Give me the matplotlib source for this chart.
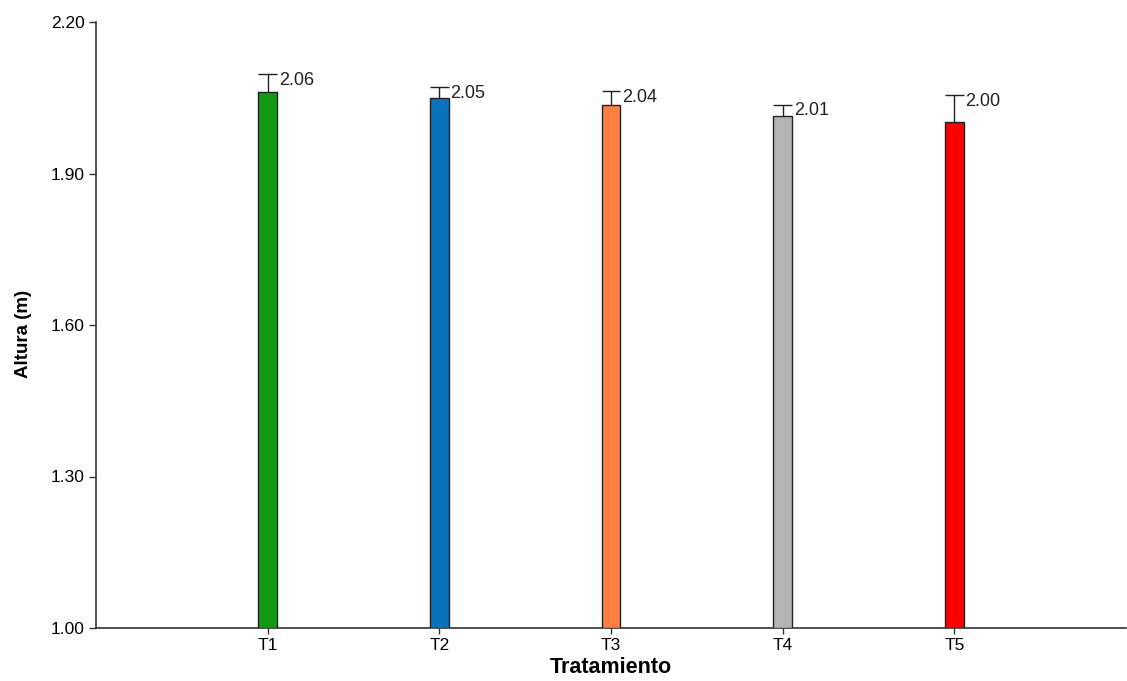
import matplotlib
matplotlib.use("Agg")
import matplotlib.pyplot as plt

# datos
tratamientos = ["T1", "T2", "T3", "T4", "T5"]
altura = [2.061, 2.049, 2.036, 2.014, 2.002]
error = [0.036, 0.022, 0.027, 0.022, 0.053]
etiquetas = ["2.06", "2.05", "2.04", "2.01", "2.00"]
colores = ["#139A13", "#0A72BD", "#FF8040", "#B4B4B4", "#FF0000"]
yticks = [1.00, 1.30, 1.60, 1.90, 2.20]

plt.rcParams["font.family"] = ["Liberation Sans", "DejaVu Sans"]

fig = plt.figure(figsize=(11.27, 6.81), dpi=100)
ax = fig.add_axes([96 / 1127, 53 / 681, 1030 / 1127, 606 / 681])

pos = list(range(1, len(tratamientos) + 1))
ax.bar(pos, [a - 1.0 for a in altura], bottom=1.0, width=0.11,
       color=colores, edgecolor="#222222", linewidth=1.0, zorder=3)

# barra de error solo hacia arriba
tope = [a + e for a, e in zip(altura, error)]
ax.vlines(pos, altura, tope, color="#222222", linewidth=1.0, zorder=2)
ax.hlines(tope, [p - 0.055 for p in pos], [p + 0.055 for p in pos],
          color="#222222", linewidth=1.0, zorder=2)

for x, t0, t in zip(pos, tope, etiquetas):
    ax.text(x + 0.065, t0 - 0.012, t, fontsize=13, color="#222222",
            ha="left", va="center")

ax.set_xlim(0, 6)
ax.set_ylim(1.0, 2.2)
ax.set_xticks(pos)
ax.set_xticklabels(tratamientos, fontsize=12.5)
ax.set_yticks(yticks)
ax.set_yticklabels(["%.2f" % v for v in yticks], fontsize=12.5)
ax.tick_params(axis="y", length=5, width=1, color="#333333", pad=3)
ax.tick_params(axis="x", length=4, width=1, color="#333333", pad=3)

for s in ["top", "right"]:
    ax.spines[s].set_visible(False)
for s in ["left", "bottom"]:
    ax.spines[s].set_color("#333333")
    ax.spines[s].set_linewidth(1.2)

ax.set_xlabel("Tratamiento", fontsize=15.5, fontweight="bold", labelpad=3)
ax.set_ylabel("Altura (m)", fontsize=13.5, fontweight="bold")
ax.yaxis.set_label_coords(-0.062, 0.485)

fig.savefig("out.png", dpi=100)
